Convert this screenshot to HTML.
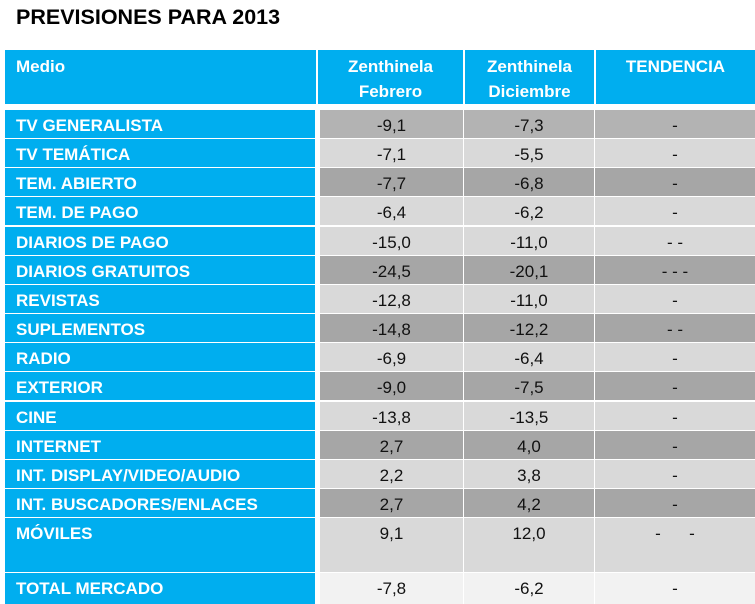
<!DOCTYPE html>
<html><head><meta charset="utf-8"><style>
body{margin:0;width:755px;height:604px;background:#fff;position:relative;overflow:hidden;font-family:"Liberation Sans",sans-serif;}
.a{position:absolute;box-sizing:border-box;}
.t{left:16px;top:5px;font-size:21.5px;font-weight:bold;color:#000;}
.h{background:#00aeef;color:#fff;font-weight:bold;font-size:17px;top:50px;height:54px;text-align:center;line-height:25px;padding-top:4px;}
.l{background:#00aeef;color:#fff;font-weight:bold;font-size:17px;left:5px;width:310px;padding-left:11px;line-height:28px;padding-top:2px;white-space:nowrap;}
.c{font-size:17px;text-align:center;color:#111;line-height:28px;padding-top:2px;}
</style></head><body>
<div class="a t">PREVISIONES PARA 2013</div>
<div class="a h" style="left:5px;width:311px;text-align:left;padding-left:11px">Medio</div>
<div class="a h" style="left:318px;width:145px">Zenthinela<br>Febrero</div>
<div class="a h" style="left:465px;width:129px">Zenthinela<br>Diciembre</div>
<div class="a h" style="left:596px;width:159px">TENDENCIA</div>
<div id="rows"></div>
<script>
(function(){
var d=[["TV GENERALISTA","-9,1","-7,3","-","#b3b3b3"],["TV TEMÁTICA","-7,1","-5,5","-","#d9d9d9"],["TEM. ABIERTO","-7,7","-6,8","-","#a6a6a6"],["TEM. DE PAGO","-6,4","-6,2","-","#d9d9d9"],["DIARIOS DE PAGO","-15,0","-11,0","- -","#d9d9d9"],["DIARIOS GRATUITOS","-24,5","-20,1","- - -","#a6a6a6"],["REVISTAS","-12,8","-11,0","-","#d9d9d9"],["SUPLEMENTOS","-14,8","-12,2","- -","#a6a6a6"],["RADIO","-6,9","-6,4","-","#d9d9d9"],["EXTERIOR","-9,0","-7,5","-","#a6a6a6"],["CINE","-13,8","-13,5","-","#d9d9d9"],["INTERNET","2,7","4,0","-","#a6a6a6"],["INT. DISPLAY/VIDEO/AUDIO","2,2","3,8","-","#d9d9d9"],["INT. BUSCADORES/ENLACES","2,7","4,2","-","#a6a6a6"],["MÓVILES","9,1","12,0","-&nbsp;&nbsp;&nbsp;&nbsp;&nbsp;&nbsp;-","#d9d9d9"],["TOTAL MERCADO","-7,8","-6,2","-","#f2f2f2"]];
var h="";
for(var i=0;i<d.length;i++){
 var tp=Math.round(110+i*29.15),ht=28;
 if(i==14){ht=54;}
 if(i==15){tp=573;ht=31;}
 var r=d[i],s="top:"+tp+"px;height:"+ht+"px;";
 h+='<div class="a l" style="'+s+'">'+r[0]+'</div>';
 h+='<div class="a c" style="'+s+'left:320px;width:143px;background:'+r[4]+'">'+r[1]+'</div>';
 h+='<div class="a c" style="'+s+'left:464px;width:130px;background:'+r[4]+'">'+r[2]+'</div>';
 h+='<div class="a c" style="'+s+'left:595px;width:160px;background:'+r[4]+'">'+r[3]+'</div>';
}
document.getElementById("rows").innerHTML=h;
})();
</script>
</body></html>
